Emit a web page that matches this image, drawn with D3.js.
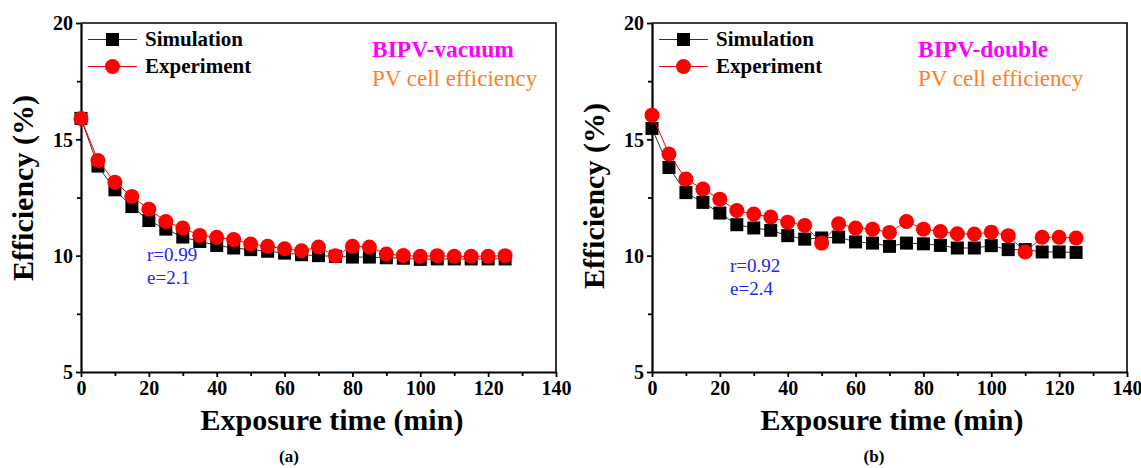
<!DOCTYPE html>
<html>
<head>
<meta charset="utf-8">
<script src="https://cdn.jsdelivr.net/npm/d3@7"></script>
<style>
  body { margin: 0; background: #fff; }
  svg { display: block; }
  svg text { font-family: "Liberation Serif", "Times New Roman", Times, "DejaVu Serif", serif !important; }
</style>
</head>
<body>
<script>
// exposure time (min)
var times = [0, 5, 10, 15, 20, 25, 30, 35, 40, 45, 50, 55, 60, 65, 70, 75, 80, 85, 90, 95, 100, 105, 110, 115, 120, 125];

// (a) BIPV-vacuum
var simVacuum = [15.9, 13.85, 12.83, 12.11, 11.51, 11.14, 10.8, 10.61, 10.44, 10.33, 10.26, 10.19, 10.11, 10.04, 10.0, 9.97, 9.94, 9.94, 9.91, 9.89, 9.84, 9.86, 9.86, 9.86, 9.86, 9.86];
var expVacuum = [15.9, 14.09, 13.16, 12.54, 12.0, 11.47, 11.19, 10.87, 10.79, 10.69, 10.5, 10.4, 10.3, 10.21, 10.37, 10.0, 10.4, 10.37, 10.07, 10.01, 9.97, 10.0, 9.97, 9.97, 9.97, 10.0];

// (b) BIPV-double
var simDouble = [15.47, 13.79, 12.71, 12.29, 11.83, 11.33, 11.19, 11.09, 10.86, 10.71, 10.76, 10.8, 10.59, 10.54, 10.4, 10.54, 10.51, 10.44, 10.33, 10.33, 10.43, 10.26, 10.26, 10.16, 10.16, 10.14];
var expDouble = [16.04, 14.37, 13.29, 12.86, 12.43, 11.94, 11.79, 11.66, 11.44, 11.3, 10.54, 11.37, 11.19, 11.14, 11.0, 11.47, 11.14, 11.04, 10.94, 10.93, 11.01, 10.86, 10.16, 10.79, 10.79, 10.76];

var xTicks = [0, 20, 40, 60, 80, 100, 120, 140];
var xMinor = [10, 30, 50, 70, 90, 110, 130];
var yTicks = [5, 10, 15, 20];
var yMinor = [7.5, 12.5, 17.5];

var seriesNames = ["Simulation", "Experiment"];

var panels = [
  { left: 81, sim: simVacuum, exp: expVacuum, name: "BIPV-vacuum", labelX: 372,
    stats: ["r=0.99", "e=2.1"], statX: 147, statY: 261, yTitleY: 188, xTitleX: 332, tag: "(a)", tagX: 289 },
  { left: 652, sim: simDouble, exp: expDouble, name: "BIPV-double", labelX: 918,
    stats: ["r=0.92", "e=2.4"], statX: 730, statY: 272, yTitleY: 196, xTitleX: 892, tag: "(b)", tagX: 874 }
];

var width = 1141, height = 468;
var plotW = 475, plotTop = 23, plotBottom = 372;

var svg = d3.select("body").append("svg")
    .attr("width", width)
    .attr("height", height);

panels.forEach(function (p) {
  var x = d3.scaleLinear().domain([0, 140]).range([p.left, p.left + plotW]);
  var y = d3.scaleLinear().domain([5, 20]).range([plotBottom, plotTop]);
  var g = svg.append("g");

  // frame top / right
  g.append("path")
      .attr("d", "M" + x(0) + "," + y(20) + "H" + x(140) + "V" + y(5))
      .attr("fill", "none").attr("stroke", "#000").attr("stroke-width", 1.6);

  g.append("g")
      .attr("transform", "translate(0," + plotBottom + ")")
      .call(d3.axisBottom(x).tickValues(xTicks).tickSize(5).tickSizeOuter(0).tickPadding(4));
  g.append("g")
      .attr("transform", "translate(0," + plotBottom + ")")
      .call(d3.axisBottom(x).tickValues(xMinor).tickSize(4).tickFormat("").tickSizeOuter(0))
      .select(".domain").remove();

  var yAxis = g.append("g")
      .attr("transform", "translate(" + p.left + ",0)")
      .call(d3.axisLeft(y).tickValues(yTicks).tickSize(5).tickSizeOuter(0).tickPadding(3));
  g.append("g")
      .attr("transform", "translate(" + p.left + ",0)")
      .call(d3.axisLeft(y).tickValues(yMinor).tickSize(4).tickFormat("").tickSizeOuter(0))
      .select(".domain").remove();

  g.selectAll(".domain").attr("stroke-width", 2.2);
  g.selectAll(".tick line").attr("stroke-width", 1.8);
  g.selectAll(".tick text")
      .attr("font-weight", "bold")
      .attr("font-size", 20)
      .attr("fill", "#000");
  yAxis.selectAll(".tick text").attr("dy", "0.34em");

  var line = function (vals) {
    return d3.line()
        .x(function (d, i) { return x(times[i]); })
        .y(function (d) { return y(d); })(vals);
  };

  g.append("path").attr("d", line(p.sim))
      .attr("fill", "none").attr("stroke", "#333").attr("stroke-width", 1);
  g.selectAll(".sq").data(p.sim).enter().append("rect")
      .attr("class", "sq")
      .attr("x", function (d, i) { return x(times[i]) - 6.5; })
      .attr("y", function (d) { return y(d) - 6.5; })
      .attr("width", 13).attr("height", 13)
      .attr("fill", "#000");

  g.append("path").attr("d", line(p.exp))
      .attr("fill", "none").attr("stroke", "#ff0000").attr("stroke-width", 1);
  g.selectAll(".ci").data(p.exp).enter().append("circle")
      .attr("class", "ci")
      .attr("cx", function (d, i) { return x(times[i]); })
      .attr("cy", function (d) { return y(d); })
      .attr("r", 7.5)
      .attr("fill", "#ff0000");

  // legend
  var lx = p.left + 7;
  var leg = g.append("g");
  leg.append("line").attr("x1", lx).attr("x2", lx + 49).attr("y1", 39.5).attr("y2", 39.5)
      .attr("stroke", "#333").attr("stroke-width", 1);
  leg.append("rect").attr("x", lx + 24.5 - 6.5).attr("y", 33).attr("width", 13).attr("height", 13).attr("fill", "#000");
  leg.append("line").attr("x1", lx).attr("x2", lx + 49).attr("y1", 66.5).attr("y2", 66.5)
      .attr("stroke", "#ff0000").attr("stroke-width", 1);
  leg.append("circle").attr("cx", lx + 24.5).attr("cy", 66.5).attr("r", 7.5).attr("fill", "#ff0000");
  leg.selectAll("text").data(seriesNames).enter().append("text")
      .attr("x", lx + 57)
      .attr("y", function (d, i) { return i === 0 ? 46 : 73; })
      .attr("font-size", 21).attr("font-weight", "bold")
      .text(function (d) { return d; });

  g.append("text").attr("x", p.labelX).attr("y", 57)
      .attr("font-size", 23.5).attr("font-weight", "bold").attr("fill", "#ff00ff")
      .text(p.name);
  g.append("text").attr("x", p.labelX).attr("y", 86)
      .attr("font-size", 23).attr("fill", "#ff8020")
      .text("PV cell efficiency");

  g.selectAll(".stat").data(p.stats).enter().append("text")
      .attr("class", "stat")
      .attr("x", p.statX)
      .attr("y", function (d, i) { return p.statY + i * 23; })
      .attr("font-size", 19).attr("fill", "#2222ff")
      .text(function (d) { return d; });

  g.append("text")
      .attr("transform", "translate(" + (p.left - 48) + "," + p.yTitleY + ") rotate(-90)")
      .attr("text-anchor", "middle")
      .attr("font-size", 30).attr("font-weight", "bold")
      .text("Efficiency (%)");

  g.append("text")
      .attr("x", p.xTitleX).attr("y", 430)
      .attr("text-anchor", "middle")
      .attr("font-size", 30).attr("font-weight", "bold")
      .text("Exposure time (min)");

  g.append("text")
      .attr("x", p.tagX).attr("y", 462)
      .attr("text-anchor", "middle")
      .attr("font-size", 17).attr("font-weight", "bold")
      .text(p.tag);
});
</script>
</body>
</html>
